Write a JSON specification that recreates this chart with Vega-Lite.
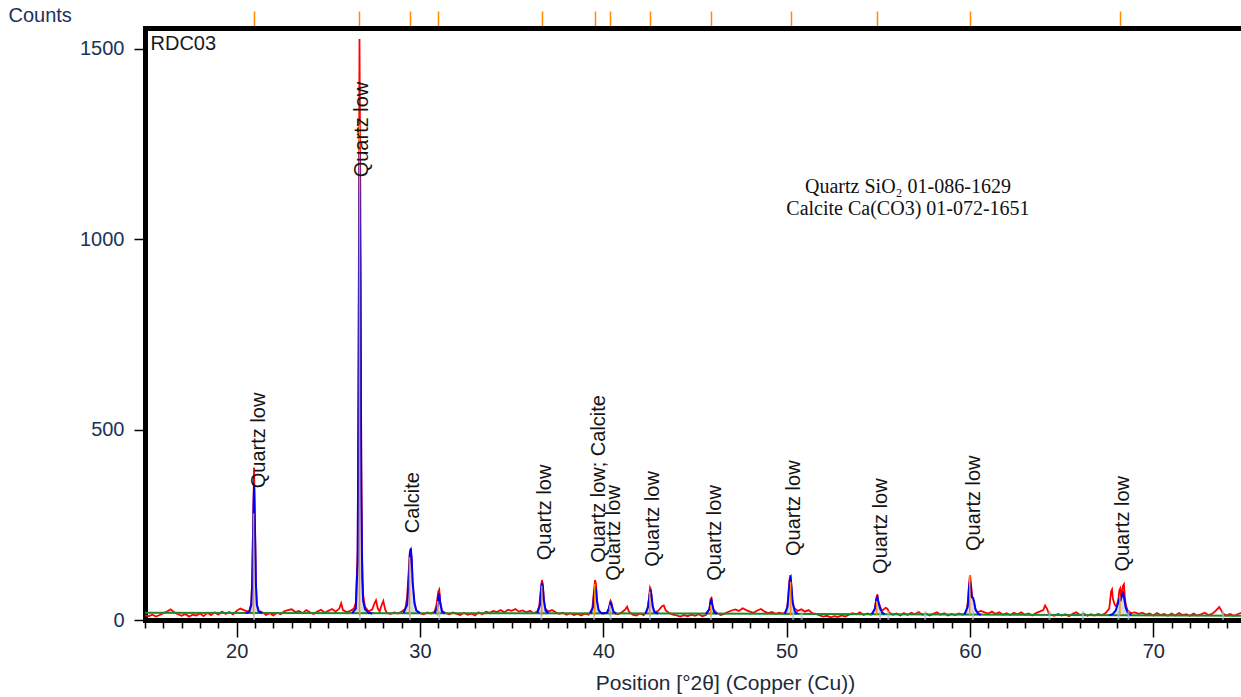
{
"$schema": "https://vega.github.io/schema/vega-lite/v6.json",
"autosize": {"type": "none"},
"padding": {"left": 145, "top": 28, "right": 0, "bottom": 77},
"width": 1110,
"height": 592,
"background": "white",
"config": {"view": {"stroke": null}, "font": "Liberation Sans"},
"datasets": {
"obs": [
{"x":15.0,"y":12},{"x":15.2,"y":10},{"x":15.4,"y":14},{"x":15.6,"y":9},{"x":15.8,"y":13},{"x":16.0,"y":18},{"x":16.2,"y":22},{"x":16.4,"y":28},{"x":16.6,"y":20},{"x":16.8,"y":15},
{"x":17.0,"y":11},{"x":17.2,"y":16},{"x":17.4,"y":9},{"x":17.6,"y":14},{"x":17.8,"y":12},{"x":18.0,"y":17},{"x":18.2,"y":10},{"x":18.4,"y":19},{"x":18.6,"y":13},{"x":18.8,"y":20},
{"x":19.0,"y":14},{"x":19.2,"y":22},{"x":19.4,"y":16},{"x":19.6,"y":21},{"x":19.8,"y":15},{"x":20.0,"y":24},{"x":20.2,"y":30},{"x":20.4,"y":26},{"x":20.6,"y":22},{"x":20.7,"y":25},
{"x":20.8,"y":45},{"x":20.85,"y":110},{"x":20.9,"y":260},{"x":20.95,"y":400},{"x":21.0,"y":250},{"x":21.05,"y":95},{"x":21.1,"y":40},{"x":21.2,"y":24},{"x":21.4,"y":20},{"x":21.6,"y":13},
{"x":21.8,"y":18},{"x":22.0,"y":12},{"x":22.2,"y":19},{"x":22.4,"y":15},{"x":22.6,"y":23},{"x":22.8,"y":26},{"x":23.0,"y":28},{"x":23.2,"y":21},{"x":23.4,"y":24},{"x":23.6,"y":18},
{"x":23.8,"y":26},{"x":24.0,"y":20},{"x":24.2,"y":16},{"x":24.4,"y":22},{"x":24.6,"y":27},{"x":24.8,"y":19},{"x":25.0,"y":24},{"x":25.2,"y":29},{"x":25.4,"y":22},{"x":25.6,"y":30},
{"x":25.7,"y":44},{"x":25.8,"y":26},{"x":26.0,"y":21},{"x":26.2,"y":24},{"x":26.4,"y":30},{"x":26.5,"y":45},{"x":26.6,"y":180},{"x":26.65,"y":700},{"x":26.7,"y":1525},{"x":26.75,"y":1100},
{"x":26.8,"y":420},{"x":26.85,"y":150},{"x":26.9,"y":65},{"x":27.0,"y":35},{"x":27.2,"y":22},{"x":27.4,"y":28},{"x":27.5,"y":42},{"x":27.6,"y":52},{"x":27.7,"y":30},{"x":27.8,"y":22},
{"x":27.9,"y":38},{"x":28.0,"y":50},{"x":28.1,"y":28},{"x":28.2,"y":18},{"x":28.4,"y":16},{"x":28.6,"y":20},{"x":28.8,"y":17},{"x":29.0,"y":22},{"x":29.2,"y":30},{"x":29.3,"y":60},
{"x":29.4,"y":140},{"x":29.45,"y":180},{"x":29.5,"y":185},{"x":29.55,"y":150},{"x":29.6,"y":90},{"x":29.7,"y":40},{"x":29.8,"y":24},{"x":30.0,"y":18},{"x":30.2,"y":15},{"x":30.4,"y":20},
{"x":30.6,"y":17},{"x":30.8,"y":22},{"x":30.9,"y":40},{"x":31.0,"y":75},{"x":31.05,"y":80},{"x":31.1,"y":50},{"x":31.2,"y":24},{"x":31.4,"y":18},{"x":31.6,"y":15},{"x":31.8,"y":20},
{"x":32.0,"y":16},{"x":32.2,"y":13},{"x":32.4,"y":19},{"x":32.6,"y":14},{"x":32.8,"y":17},{"x":33.0,"y":12},{"x":33.2,"y":20},{"x":33.4,"y":15},{"x":33.6,"y":22},{"x":33.8,"y":19},
{"x":34.0,"y":24},{"x":34.2,"y":21},{"x":34.4,"y":26},{"x":34.6,"y":20},{"x":34.8,"y":27},{"x":35.0,"y":24},{"x":35.2,"y":29},{"x":35.4,"y":22},{"x":35.6,"y":25},{"x":35.8,"y":20},
{"x":36.0,"y":24},{"x":36.2,"y":18},{"x":36.4,"y":22},{"x":36.5,"y":35},{"x":36.6,"y":80},{"x":36.65,"y":105},{"x":36.7,"y":95},{"x":36.75,"y":60},{"x":36.8,"y":32},{"x":37.0,"y":22},
{"x":37.2,"y":26},{"x":37.4,"y":20},{"x":37.6,"y":16},{"x":37.8,"y":19},{"x":38.0,"y":14},{"x":38.2,"y":18},{"x":38.4,"y":13},{"x":38.6,"y":16},{"x":38.8,"y":12},{"x":39.0,"y":17},
{"x":39.2,"y":14},{"x":39.4,"y":30},{"x":39.5,"y":80},{"x":39.55,"y":105},{"x":39.6,"y":95},{"x":39.65,"y":60},{"x":39.7,"y":30},{"x":39.8,"y":20},{"x":40.0,"y":16},{"x":40.2,"y":19},
{"x":40.3,"y":30},{"x":40.4,"y":50},{"x":40.45,"y":45},{"x":40.5,"y":28},{"x":40.6,"y":17},{"x":40.8,"y":15},{"x":41.0,"y":20},{"x":41.2,"y":28},{"x":41.3,"y":35},{"x":41.4,"y":22},
{"x":41.6,"y":14},{"x":41.8,"y":12},{"x":42.0,"y":17},{"x":42.2,"y":13},{"x":42.4,"y":25},{"x":42.5,"y":60},{"x":42.55,"y":85},{"x":42.6,"y":80},{"x":42.65,"y":50},{"x":42.7,"y":28},
{"x":42.8,"y":20},{"x":43.0,"y":24},{"x":43.2,"y":36},{"x":43.3,"y":38},{"x":43.4,"y":26},{"x":43.6,"y":18},{"x":43.8,"y":14},{"x":44.0,"y":12},{"x":44.2,"y":9},{"x":44.4,"y":13},
{"x":44.6,"y":10},{"x":44.8,"y":14},{"x":45.0,"y":11},{"x":45.2,"y":15},{"x":45.4,"y":10},{"x":45.6,"y":13},{"x":45.8,"y":30},{"x":45.85,"y":55},{"x":45.9,"y":58},{"x":45.95,"y":40},
{"x":46.0,"y":28},{"x":46.2,"y":18},{"x":46.4,"y":13},{"x":46.6,"y":16},{"x":46.8,"y":21},{"x":47.0,"y":25},{"x":47.2,"y":28},{"x":47.4,"y":24},{"x":47.6,"y":31},{"x":47.8,"y":26},
{"x":48.0,"y":22},{"x":48.2,"y":19},{"x":48.4,"y":25},{"x":48.6,"y":29},{"x":48.8,"y":22},{"x":49.0,"y":18},{"x":49.2,"y":21},{"x":49.4,"y":16},{"x":49.6,"y":19},{"x":49.8,"y":17},
{"x":50.0,"y":22},{"x":50.1,"y":60},{"x":50.15,"y":100},{"x":50.2,"y":118},{"x":50.25,"y":95},{"x":50.3,"y":55},{"x":50.4,"y":32},{"x":50.6,"y":24},{"x":50.8,"y":28},{"x":51.0,"y":22},
{"x":51.2,"y":26},{"x":51.4,"y":18},{"x":51.6,"y":16},{"x":51.8,"y":12},{"x":52.0,"y":9},{"x":52.2,"y":11},{"x":52.4,"y":7},{"x":52.6,"y":10},{"x":52.8,"y":8},{"x":53.0,"y":12},
{"x":53.2,"y":9},{"x":53.4,"y":14},{"x":53.6,"y":18},{"x":53.8,"y":15},{"x":54.0,"y":20},{"x":54.2,"y":13},{"x":54.4,"y":17},{"x":54.6,"y":14},{"x":54.8,"y":25},{"x":54.9,"y":60},
{"x":54.95,"y":67},{"x":55.0,"y":50},{"x":55.1,"y":35},{"x":55.2,"y":24},{"x":55.4,"y":32},{"x":55.5,"y":30},{"x":55.6,"y":19},{"x":55.8,"y":14},{"x":56.0,"y":17},{"x":56.2,"y":12},
{"x":56.4,"y":18},{"x":56.6,"y":13},{"x":56.8,"y":19},{"x":57.0,"y":15},{"x":57.2,"y":21},{"x":57.4,"y":14},{"x":57.6,"y":17},{"x":57.8,"y":12},{"x":58.0,"y":16},{"x":58.2,"y":20},
{"x":58.4,"y":14},{"x":58.6,"y":18},{"x":58.8,"y":12},{"x":59.0,"y":16},{"x":59.2,"y":13},{"x":59.4,"y":17},{"x":59.6,"y":14},{"x":59.8,"y":20},{"x":59.9,"y":50},{"x":59.95,"y":95},
{"x":60.0,"y":118},{"x":60.05,"y":100},{"x":60.1,"y":70},{"x":60.15,"y":55},{"x":60.2,"y":50},{"x":60.3,"y":28},{"x":60.4,"y":20},{"x":60.6,"y":24},{"x":60.8,"y":20},{"x":61.0,"y":17},
{"x":61.2,"y":22},{"x":61.4,"y":16},{"x":61.6,"y":20},{"x":61.8,"y":14},{"x":62.0,"y":18},{"x":62.2,"y":13},{"x":62.4,"y":19},{"x":62.6,"y":15},{"x":62.8,"y":20},{"x":63.0,"y":14},
{"x":63.2,"y":17},{"x":63.4,"y":12},{"x":63.6,"y":18},{"x":63.8,"y":22},{"x":64.0,"y":26},{"x":64.1,"y":38},{"x":64.2,"y":30},{"x":64.3,"y":18},{"x":64.4,"y":14},{"x":64.6,"y":11},
{"x":64.8,"y":16},{"x":65.0,"y":12},{"x":65.2,"y":15},{"x":65.4,"y":10},{"x":65.6,"y":16},{"x":65.8,"y":20},{"x":66.0,"y":13},{"x":66.2,"y":17},{"x":66.4,"y":11},{"x":66.6,"y":15},
{"x":66.8,"y":12},{"x":67.0,"y":16},{"x":67.2,"y":13},{"x":67.4,"y":18},{"x":67.6,"y":30},{"x":67.7,"y":75},{"x":67.75,"y":80},{"x":67.8,"y":55},{"x":67.9,"y":40},{"x":68.0,"y":35},
{"x":68.1,"y":55},{"x":68.15,"y":78},{"x":68.2,"y":83},{"x":68.25,"y":60},{"x":68.3,"y":75},{"x":68.35,"y":90},{"x":68.4,"y":94},{"x":68.45,"y":60},{"x":68.5,"y":40},{"x":68.6,"y":25},
{"x":68.8,"y":18},{"x":69.0,"y":20},{"x":69.2,"y":16},{"x":69.4,"y":19},{"x":69.6,"y":14},{"x":69.8,"y":17},{"x":70.0,"y":12},{"x":70.2,"y":18},{"x":70.4,"y":13},{"x":70.6,"y":16},
{"x":70.8,"y":11},{"x":71.0,"y":17},{"x":71.2,"y":12},{"x":71.4,"y":18},{"x":71.6,"y":13},{"x":71.8,"y":15},{"x":72.0,"y":11},{"x":72.2,"y":17},{"x":72.4,"y":12},{"x":72.6,"y":15},
{"x":72.8,"y":19},{"x":73.0,"y":13},{"x":73.2,"y":16},{"x":73.4,"y":24},{"x":73.6,"y":34},{"x":73.7,"y":26},{"x":73.8,"y":17},{"x":74.0,"y":12},{"x":74.2,"y":16},{"x":74.4,"y":11},
{"x":74.6,"y":15},{"x":74.8,"y":19},{"x":75.0,"y":13},{"x":75.2,"y":16},{"x":75.4,"y":12}
],
"calc": [
{"p":1,"x":20.5,"y":18},{"p":1,"x":20.7,"y":22},{"p":1,"x":20.8,"y":40},{"p":1,"x":20.85,"y":100},{"p":1,"x":20.9,"y":250},{"p":1,"x":20.95,"y":355},{"p":1,"x":21.0,"y":240},{"p":1,"x":21.05,"y":95},{"p":1,"x":21.1,"y":40},{"p":1,"x":21.2,"y":22},{"p":1,"x":21.4,"y":18},
{"p":2,"x":26.3,"y":18},{"p":2,"x":26.5,"y":30},{"p":2,"x":26.6,"y":150},{"p":2,"x":26.65,"y":600},{"p":2,"x":26.7,"y":1225},{"p":2,"x":26.75,"y":900},{"p":2,"x":26.8,"y":320},{"p":2,"x":26.85,"y":110},{"p":2,"x":26.9,"y":50},{"p":2,"x":27.0,"y":28},{"p":2,"x":27.2,"y":19},{"p":2,"x":27.4,"y":17},
{"p":3,"x":29.1,"y":18},{"p":3,"x":29.3,"y":40},{"p":3,"x":29.4,"y":120},{"p":3,"x":29.45,"y":175},{"p":3,"x":29.5,"y":188},{"p":3,"x":29.55,"y":160},{"p":3,"x":29.6,"y":100},{"p":3,"x":29.7,"y":45},{"p":3,"x":29.8,"y":25},{"p":3,"x":30.0,"y":18},
{"p":4,"x":30.8,"y":18},{"p":4,"x":30.95,"y":35},{"p":4,"x":31.0,"y":62},{"p":4,"x":31.05,"y":70},{"p":4,"x":31.1,"y":45},{"p":4,"x":31.2,"y":22},{"p":4,"x":31.35,"y":17},
{"p":5,"x":36.4,"y":18},{"p":5,"x":36.55,"y":40},{"p":5,"x":36.6,"y":80},{"p":5,"x":36.65,"y":97},{"p":5,"x":36.7,"y":88},{"p":5,"x":36.75,"y":55},{"p":5,"x":36.85,"y":25},{"p":5,"x":37.0,"y":17},
{"p":6,"x":39.3,"y":17},{"p":6,"x":39.45,"y":35},{"p":6,"x":39.5,"y":72},{"p":6,"x":39.55,"y":88},{"p":6,"x":39.6,"y":80},{"p":6,"x":39.65,"y":50},{"p":6,"x":39.75,"y":25},{"p":6,"x":39.9,"y":18},{"p":6,"x":40.2,"y":19},{"p":6,"x":40.3,"y":30},{"p":6,"x":40.38,"y":45},{"p":6,"x":40.45,"y":40},{"p":6,"x":40.55,"y":22},{"p":6,"x":40.7,"y":17},
{"p":7,"x":42.3,"y":17},{"p":7,"x":42.45,"y":35},{"p":7,"x":42.52,"y":65},{"p":7,"x":42.57,"y":78},{"p":7,"x":42.62,"y":68},{"p":7,"x":42.7,"y":35},{"p":7,"x":42.8,"y":20},{"p":7,"x":43.0,"y":17},
{"p":8,"x":45.6,"y":16},{"p":8,"x":45.78,"y":28},{"p":8,"x":45.85,"y":48},{"p":8,"x":45.9,"y":52},{"p":8,"x":45.95,"y":38},{"p":8,"x":46.05,"y":20},{"p":8,"x":46.2,"y":16},
{"p":9,"x":49.9,"y":16},{"p":9,"x":50.05,"y":35},{"p":9,"x":50.12,"y":80},{"p":9,"x":50.18,"y":108},{"p":9,"x":50.22,"y":112},{"p":9,"x":50.27,"y":85},{"p":9,"x":50.33,"y":45},{"p":9,"x":50.45,"y":22},{"p":9,"x":50.6,"y":16},
{"p":10,"x":54.65,"y":15},{"p":10,"x":54.82,"y":30},{"p":10,"x":54.9,"y":55},{"p":10,"x":54.95,"y":60},{"p":10,"x":55.0,"y":48},{"p":10,"x":55.1,"y":30},{"p":10,"x":55.2,"y":20},{"p":10,"x":55.35,"y":15},
{"p":11,"x":59.7,"y":14},{"p":11,"x":59.88,"y":35},{"p":11,"x":59.95,"y":85},{"p":11,"x":60.0,"y":100},{"p":11,"x":60.05,"y":88},{"p":11,"x":60.1,"y":60},{"p":11,"x":60.17,"y":58},{"p":11,"x":60.22,"y":50},{"p":11,"x":60.3,"y":28},{"p":11,"x":60.45,"y":16},{"p":11,"x":60.6,"y":14},
{"p":12,"x":67.6,"y":12},{"p":12,"x":67.8,"y":16},{"p":12,"x":67.95,"y":25},{"p":12,"x":68.05,"y":40},{"p":12,"x":68.15,"y":55},{"p":12,"x":68.22,"y":52},{"p":12,"x":68.3,"y":65},{"p":12,"x":68.36,"y":70},{"p":12,"x":68.42,"y":55},{"p":12,"x":68.5,"y":32},{"p":12,"x":68.6,"y":20},{"p":12,"x":68.8,"y":13}
],
"base": [
{"x":15.0,"y":19},{"x":30.0,"y":18},{"x":45.0,"y":17},{"x":55.0,"y":15},{"x":65.0,"y":13},{"x":75.6,"y":11}
],
"sticks": [
{"x":20.92,"h":280},{"x":26.7,"h":1300},{"x":29.43,"h":165},{"x":30.96,"h":50},{"x":36.64,"h":90},{"x":39.53,"h":95},{"x":40.35,"h":40},{"x":42.53,"h":75},{"x":45.86,"h":40},{"x":50.22,"h":100},{"x":54.91,"h":50},{"x":59.99,"h":118},{"x":68.18,"h":60}
],
"blueticks": [
{"x":20.95},{"x":26.72},{"x":29.46},{"x":31.05},{"x":36.62},{"x":39.5},{"x":40.4},{"x":42.55},{"x":45.87},{"x":50.36},{"x":50.82},{"x":55.1},{"x":55.55},{"x":57.56},{"x":60.16},{"x":64.34},{"x":66.16},{"x":68.1},{"x":68.65},{"x":73.8}
],
"labels": [
{"x":21.22,"y":346,"t":"Quartz low"},
{"x":26.86,"y":1162,"t":"Quartz low"},
{"x":29.64,"y":228,"t":"Calcite"},
{"x":36.84,"y":157,"t":"Quartz low"},
{"x":39.74,"y":150,"t":"Quartz low; Calcite"},
{"x":40.6,"y":103,"t":"Quartz low"},
{"x":42.7,"y":140,"t":"Quartz low"},
{"x":46.09,"y":103,"t":"Quartz low"},
{"x":50.38,"y":168,"t":"Quartz low"},
{"x":55.13,"y":121,"t":"Quartz low"},
{"x":60.23,"y":181,"t":"Quartz low"},
{"x":68.37,"y":127,"t":"Quartz low"}
],
"note": [
{"x":56.62,"y":1121,"t":"Quartz SiO₂ 01-086-1629"},
{"x":56.62,"y":1063,"t":"Calcite Ca(CO3) 01-072-1651"}
],
"tag": [{"x":15.3,"y":1495,"t":"RDC03"}]
},
"resolve": {"axis": {"x": "independent"}},
"layer": [
{
"data": {"name": "obs"},
"mark": {"type": "line", "color": "#ff0000", "strokeWidth": 1.8, "clip": true},
"encoding": {
"x": {"field": "x", "type": "quantitative", "scale": {"domain": [15, 75.55], "nice": false, "zero": false},
"axis": {"orient": "bottom", "values": [15,16,17,18,19,20,21,22,23,24,25,26,27,28,29,30,31,32,33,34,35,36,37,38,39,40,41,42,43,44,45,46,47,48,49,50,51,52,53,54,55,56,57,58,59,60,61,62,63,64,65,66,67,68,69,70,71,72,73,74,75],
"domainWidth": 5, "domainColor": "black", "domainCap": "square", "grid": false,
"tickColor": "black", "tickWidth": 1.5,
"tickSize": {"condition": {"test": "datum.value % 10 === 0", "value": 17}, "value": 8},
"labelExpr": "datum.value % 10 === 0 ? datum.label : ''",
"labelFontSize": 20, "labelPadding": 4, "labelColor": "#1e2a3c", "labelFlush": false, "labelOverlap": false,
"title": "Position [°2θ] (Copper (Cu))", "titleFontSize": 21, "titleFontWeight": "normal", "titleColor": "#1e2a3c",
"titleX": 580, "titleY": 63, "titleAlign": "center", "titleBaseline": "middle"}},
"y": {"field": "y", "type": "quantitative", "scale": {"domain": [0, 1554], "nice": false, "zero": false},
"axis": {"values": [0, 500, 1000, 1500], "format": "d", "domainWidth": 5, "domainColor": "black", "domainCap": "square", "grid": false,
"tickColor": "black", "tickWidth": 1.5, "tickSize": 11, "labelPadding": 10, "labelFontSize": 20, "labelColor": "#1b3357",
"title": "Counts", "titleAngle": 0, "titleX": -137, "titleY": -7, "titleAlign": "left", "titleBaseline": "alphabetic",
"titleFontSize": 20, "titleFontWeight": "normal", "titleColor": "#1b3357"}}
}
},
{
"data": {"name": "calc"},
"mark": {"type": "area", "color": "#c9d6e4", "opacity": 0.8, "clip": true},
"encoding": {
"x": {"field": "x", "type": "quantitative", "axis": null},
"y": {"field": "y", "type": "quantitative"},
"y2": {"datum": 15},
"detail": {"field": "p", "type": "nominal"}
}
},
{
"data": {"name": "base"},
"mark": {"type": "line", "color": "#1c8a2a", "strokeWidth": 2, "clip": true},
"encoding": {
"x": {"field": "x", "type": "quantitative", "axis": null},
"y": {"field": "y", "type": "quantitative"}
}
},
{
"data": {"name": "calc"},
"mark": {"type": "line", "color": "#0000ff", "strokeWidth": 2, "clip": true},
"encoding": {
"x": {"field": "x", "type": "quantitative", "axis": null},
"y": {"field": "y", "type": "quantitative"},
"detail": {"field": "p", "type": "nominal"}
}
},
{
"data": {"name": "blueticks"},
"mark": {"type": "tick", "orient": "vertical", "color": "#a9c0d6", "thickness": 2, "size": 9, "clip": true},
"encoding": {
"x": {"field": "x", "type": "quantitative", "axis": null},
"y": {"datum": 12, "type": "quantitative"}
}
},
{
"data": {"name": "sticks"},
"mark": {"type": "rule", "color": "#ff8c00", "strokeWidth": 1.5, "clip": true},
"encoding": {
"x": {"field": "x", "type": "quantitative",
"axis": {"orient": "top", "values": [20.92, 26.7, 29.43, 30.96, 36.64, 39.53, 40.35, 42.53, 45.86, 50.22, 54.91, 59.99, 68.18],
"domainWidth": 5, "domainColor": "black", "domainCap": "square", "grid": false, "labels": false, "title": null,
"tickColor": "#ff8c00", "tickWidth": 1.5, "tickSize": 17}},
"y": {"field": "h", "type": "quantitative"},
"y2": {"datum": 12}
}
},
{
"data": {"name": "labels"},
"mark": {"type": "text", "angle": 270, "align": "left", "baseline": "middle", "fontSize": 20, "font": "Liberation Sans", "color": "#141414"},
"encoding": {
"x": {"field": "x", "type": "quantitative", "axis": null},
"y": {"field": "y", "type": "quantitative"},
"text": {"field": "t", "type": "nominal"}
}
},
{
"data": {"name": "tag"},
"mark": {"type": "text", "align": "left", "baseline": "alphabetic", "fontSize": 20, "font": "Liberation Sans", "color": "#1a1a1a"},
"encoding": {
"x": {"field": "x", "type": "quantitative", "axis": null},
"y": {"field": "y", "type": "quantitative"},
"text": {"field": "t", "type": "nominal"}
}
},
{
"data": {"name": "note"},
"mark": {"type": "text", "align": "center", "baseline": "alphabetic", "fontSize": 20, "font": "Liberation Serif", "color": "#111111"},
"encoding": {
"x": {"field": "x", "type": "quantitative", "axis": null},
"y": {"field": "y", "type": "quantitative"},
"text": {"field": "t", "type": "nominal"}
}
}
]
}
